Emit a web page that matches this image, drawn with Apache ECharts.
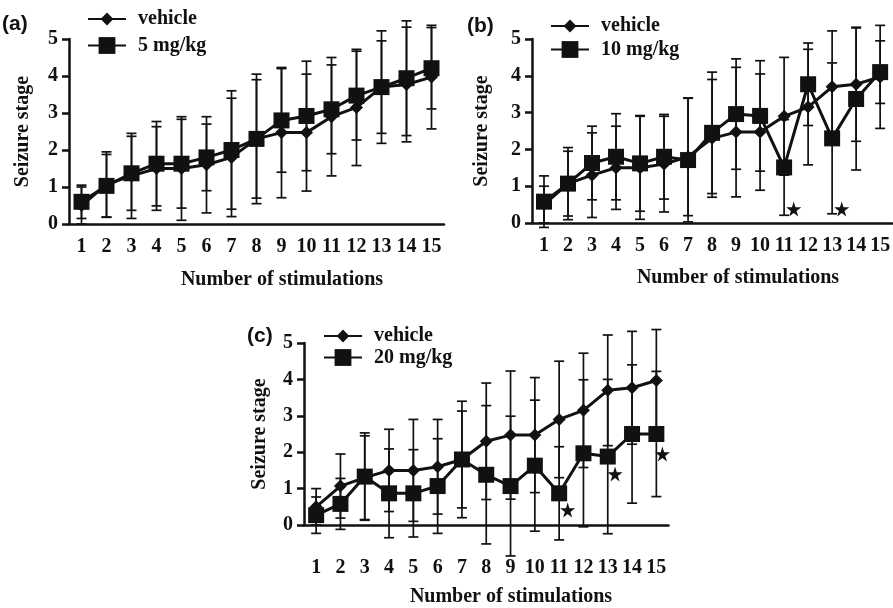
<!DOCTYPE html>
<html lang="en">
<head>
  <meta charset="UTF-8">
  <title>Seizure stage</title>
  <style>html, body { margin: 0; padding: 0; background: #fff; }</style>
</head>
<body>
  <div id="main" style="width: 893px; height: 608px"></div>
  <script src="https://cdn.jsdelivr.net/npm/echarts@6/dist/echarts.min.js"></script>
  <script>
    // data (mean and SD per stimulation)
    const stims = ['1', '2', '3', '4', '5', '6', '7', '8', '9', '10', '11', '12', '13', '14', '15'];
    const yTicks = [0, 5, 1];
    const vehicle = [0.5, 1.07, 1.3, 1.5, 1.5, 1.6, 1.8, 2.3, 2.47, 2.47, 2.9, 3.15, 3.7, 3.77, 3.97];
    const vehicleSD = [0.5, 0.88, 1.15, 1.13, 1.4, 1.3, 1.6, 1.6, 1.76, 1.58, 1.6, 1.57, 1.52, 1.55, 1.4];
    const dose5 = [0.6, 1.03, 1.37, 1.63, 1.63, 1.8, 2.0, 2.3, 2.8, 2.92, 3.1, 3.47, 3.7, 3.94, 4.21];
    const dose5SD = [0.45, 0.85, 1.0, 1.14, 1.2, 0.9, 1.6, 1.75, 1.4, 1.48, 1.2, 1.2, 1.25, 1.55, 1.1];
    const dose10 = [0.58, 1.07, 1.63, 1.8, 1.62, 1.8, 1.71, 2.45, 2.96, 2.91, 1.51, 3.77, 2.3, 3.37, 4.1];
    const dose10SD = [0.7, 0.98, 1.0, 1.17, 1.3, 1.15, 1.68, 1.65, 1.5, 1.5, 1.3, 1.12, 2.05, 1.93, 0.85];
    const dose20 = [0.27, 0.58, 1.33, 0.87, 0.87, 1.07, 1.8, 1.38, 1.07, 1.63, 0.87, 1.97, 1.88, 2.5, 2.5];
    const dose20SD = [0.5, 0.7, 1.2, 1.22, 1.2, 1.3, 1.33, 1.9, 1.92, 1.8, 1.28, 2.02, 2.12, 1.9, 1.72];
    // significance stars: [stimulation, stage]
    const starsB = [[11.4, 0.38], [13.4, 0.38]];
    const starsC = [[11.35, 0.41], [13.3, 1.4], [15.25, 1.95]];

    const serif = 'Liberation Serif';
    const ink = '#111';
    const starPath = 'path://M50,0 L61,35 L98,35 L68,57 L79,91 L50,70 L21,91 L32,57 L2,35 L39,35 Z';

    const panels = [
      { tag: '(a)', drug: '5 mg/kg', mean: dose5, sd: dose5SD, stars: [],
        grid: { left: 69, top: 39, width: 375, height: 185 },
        yGap: 36, xMargin: 13, nameX: 282, nameY: 280, tagX: 2, tagY: 24,
        leg: { x: 87, y1: 17, y2: 46 } },
      { tag: '(b)', drug: '10 mg/kg', mean: dose10, sd: dose10SD, stars: starsB,
        grid: { left: 532, top: 39, width: 364.5, height: 184 },
        yGap: 40, xMargin: 13, nameX: 738, nameY: 278, tagX: 467, tagY: 26,
        leg: { x: 550, y1: 24, y2: 50 } },
      { tag: '(c)', drug: '20 mg/kg', mean: dose20, sd: dose20SD, stars: starsC,
        grid: { left: 304, top: 343, width: 364.5, height: 182 },
        yGap: 34, xMargin: 33, nameX: 511, nameY: 597, tagX: 247, tagY: 336,
        leg: { x: 323, y1: 334, y2: 358 } }
    ];

    function errData(mean, sd) {
      return mean.map((m, i) => [i, m - sd[i], m + sd[i]]);
    }

    function renderErr(params, api) {
      const x = api.value(0);
      const lo = api.coord([x, api.value(1)]);
      const hi = api.coord([x, api.value(2)]);
      const w = 5;
      const st = { stroke: ink, lineWidth: 1.7 };
      return {
        type: 'group',
        children: [
          { type: 'line', shape: { x1: lo[0], y1: lo[1], x2: hi[0], y2: hi[1] }, style: st },
          { type: 'line', shape: { x1: lo[0] - w, y1: lo[1], x2: lo[0] + w, y2: lo[1] }, style: st },
          { type: 'line', shape: { x1: hi[0] - w, y1: hi[1], x2: hi[0] + w, y2: hi[1] }, style: st }
        ]
      };
    }

    const grid = [], xAxis = [], yAxis = [], series = [], legend = [], graphic = [];
    const legText = { fontFamily: serif, fontWeight: 'bold', fontSize: 20, color: ink, padding: [0, 0, 0, 7] };

    panels.forEach((p, k) => {
      grid.push(p.grid);
      xAxis.push({
        type: 'category', gridIndex: k, data: stims, boundaryGap: true,
        axisLine: { lineStyle: { color: ink, width: 2.5 } },
        axisTick: { interval: 0, length: 7, lineStyle: { width: 2.5 } },
        axisLabel: { interval: 0, margin: p.xMargin, fontFamily: serif, fontWeight: 'bold', fontSize: 20, color: ink },
        splitLine: { show: false }
      });
      // hidden value axis used only to place the stars
      xAxis.push({ type: 'value', gridIndex: k, min: 0.5, max: 15.5, show: false });
      yAxis.push({
        type: 'value', gridIndex: k, min: yTicks[0], max: yTicks[1], interval: yTicks[2],
        name: 'Seizure stage', nameLocation: 'middle', nameGap: p.yGap,
        nameTextStyle: { fontFamily: serif, fontWeight: 'bold', fontSize: 20, color: ink },
        axisLine: { show: true, lineStyle: { color: ink, width: 2.5 } },
        axisTick: { show: true, length: 7, lineStyle: { width: 2.5 } },
        axisLabel: { margin: 11, fontFamily: serif, fontWeight: 'bold', fontSize: 20, color: ink },
        splitLine: { show: false }
      });
      const xi = k * 2;
      series.push({
        type: 'custom', xAxisIndex: xi, yAxisIndex: k, renderItem: renderErr, clip: false, z: 1,
        encode: { x: 0, y: [1, 2] }, data: errData(vehicle, vehicleSD)
      });
      series.push({
        type: 'custom', xAxisIndex: xi, yAxisIndex: k, renderItem: renderErr, clip: false, z: 1,
        encode: { x: 0, y: [1, 2] }, data: errData(p.mean, p.sd)
      });
      series.push({
        name: 'vehicle', type: 'line', xAxisIndex: xi, yAxisIndex: k, data: vehicle, z: 3,
        symbol: 'diamond', symbolSize: 13, showAllSymbol: true,
        lineStyle: { color: ink, width: 3 }, itemStyle: { color: ink }
      });
      series.push({
        name: p.drug, type: 'line', xAxisIndex: xi, yAxisIndex: k, data: p.mean, z: 4,
        symbol: 'rect', symbolSize: 16, showAllSymbol: true,
        lineStyle: { color: ink, width: 3 }, itemStyle: { color: ink }
      });
      if (p.stars.length) {
        series.push({
          type: 'scatter', xAxisIndex: xi + 1, yAxisIndex: k, data: p.stars, z: 5,
          symbol: starPath, symbolSize: 15, itemStyle: { color: ink, opacity: 1 }
        });
      }
      legend.push({
        data: ['vehicle'], left: p.leg.x, top: p.leg.y1 - 8, padding: 0,
        itemWidth: 38, itemHeight: 16, textStyle: legText, selectedMode: false
      });
      legend.push({
        data: [p.drug], left: p.leg.x, top: p.leg.y2 - 10.5, padding: 0,
        itemWidth: 38, itemHeight: 21, textStyle: legText, selectedMode: false
      });
      graphic.push({
        type: 'text', x: p.tagX, y: p.tagY,
        style: { text: p.tag, fontFamily: 'Liberation Sans', fontWeight: 'bold', fontSize: 21, fill: ink, verticalAlign: 'middle' }
      });
      graphic.push({
        type: 'text', x: p.nameX, y: p.nameY,
        style: { text: 'Number of stimulations', fontFamily: serif, fontWeight: 'bold', fontSize: 20, fill: ink, align: 'center', verticalAlign: 'middle' }
      });
    });

    const chart = echarts.init(document.getElementById('main'));
    chart.setOption({
      backgroundColor: '#fff',
      animation: false,
      grid, xAxis, yAxis, series, legend, graphic
    });
  </script>
</body>
</html>
